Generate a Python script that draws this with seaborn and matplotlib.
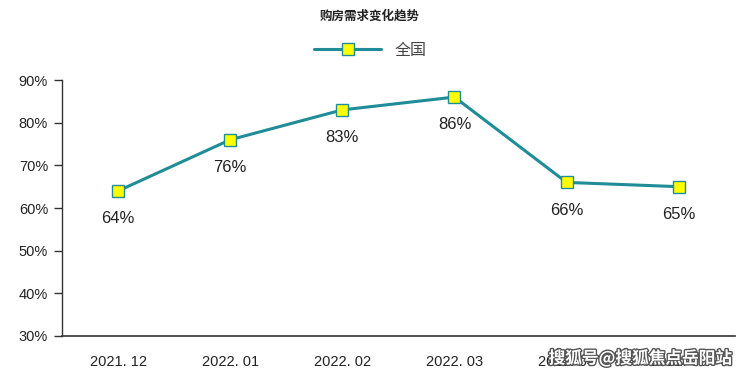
import matplotlib
matplotlib.use("Agg")
import matplotlib.pyplot as plt
import matplotlib.patheffects as pe
import seaborn as sns
import pandas as pd

months = ["2021. 12", "2022. 01", "2022. 02", "2022. 03", "2022. 04", "2022. 05"]
demand = [64, 76, 83, 86, 66, 65]
yticks = [30, 40, 50, 60, 70, 80, 90]
series_name = "全国"
title = "购房需求变化趋势"
watermark = "搜狐号@搜狐焦点岳阳站"

sns.set_theme(style="white")
plt.rcParams['font.family'] = ['Noto Sans CJK SC', 'DejaVu Sans']

df = pd.DataFrame({"month": months, "value": demand, "series": series_name})

fig = plt.figure(figsize=(7.4, 3.76), dpi=100)
ax = fig.add_axes([0.0838, 0.1064, 0.9092, 0.6808])

color = "#1f8c98"
sns.lineplot(data=df, x="month", y="value", hue="series", palette=[color],
             sort=False, marker="s", markersize=8, markerfacecolor="#ffff00",
             markeredgecolor=color, markeredgewidth=1.0, linewidth=2.2, ax=ax)

for i, v in enumerate(demand):
    ax.annotate(f"{v}%", (i, v), xytext=(0, -20), textcoords="offset points",
                ha="center", va="center", fontsize=12, color="#222222",
                family=["Liberation Sans", "DejaVu Sans"])

ax.set_xlim(-0.5, len(months) - 0.5)
ax.set_ylim(30, 90)
ax.set_yticks(yticks)
ax.set_yticklabels([f"{t}%" for t in yticks], fontsize=10.5, color="#222222",
                   family=["Liberation Sans", "DejaVu Sans"])
ax.set_xticks(range(len(months)))
ax.set_xticklabels(months, fontsize=10.5, color="#222222",
                   family=["Liberation Sans", "DejaVu Sans"])
ax.set_xlabel("")
ax.set_ylabel("")
for s in ["top", "right"]:
    ax.spines[s].set_visible(False)
ax.spines["left"].set_color("#333333")
ax.spines["bottom"].set_color("#333333")
ax.spines["left"].set_linewidth(1.0)
ax.spines["bottom"].set_linewidth(1.2)
ax.tick_params(axis="y", which="both", left=True, length=6, width=1, color="#333333", pad=4)
ax.tick_params(axis="x", which="both", bottom=False, pad=8)

leg = ax.legend(loc="center", bbox_to_anchor=(0.458, 1.117),
                frameon=False, fontsize=11.5, handlelength=4.2, handletextpad=0.8,
                markerscale=1.15)
for t in leg.get_texts():
    t.set_color("#444444")

fig.text(0.5, 1 - 16 / 376, title, ha="center", va="center", fontsize=9,
         fontweight="bold", color="#222222")

fig.text(0.865, 1 - 358 / 376, watermark, ha="center", va="center", fontsize=12,
         fontweight="bold", color="white",
         path_effects=[pe.withStroke(linewidth=2.0, foreground="#555555")])

fig.savefig("out.png", dpi=100)
